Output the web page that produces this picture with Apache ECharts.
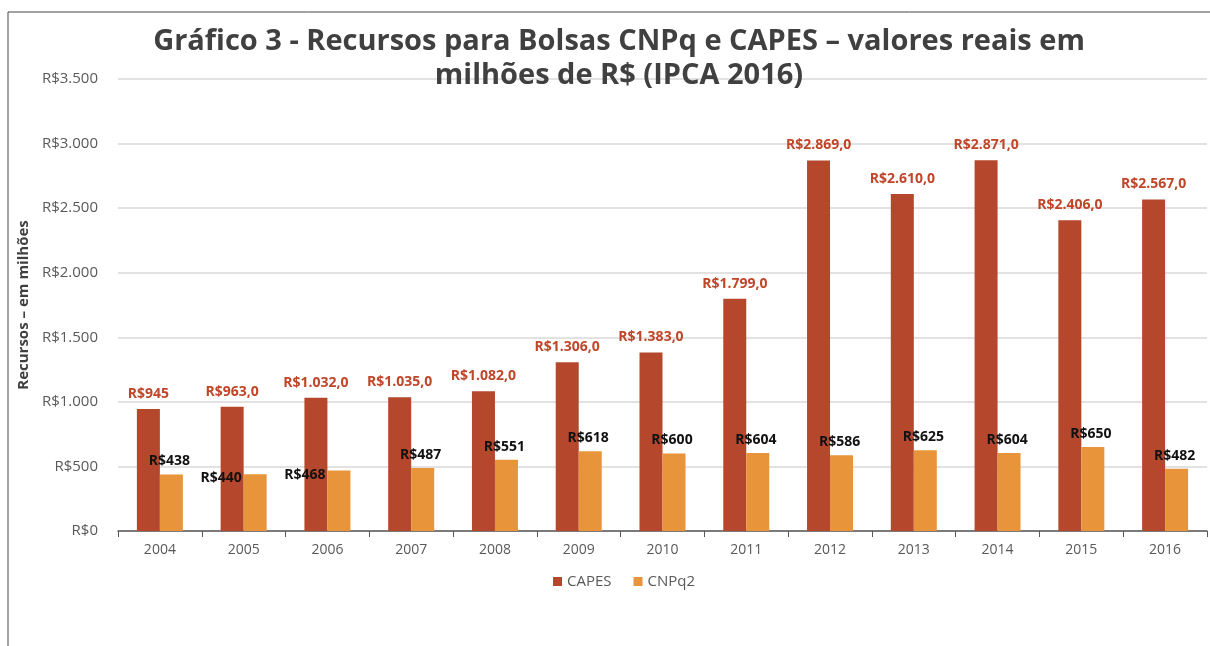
<!DOCTYPE html>
<html>
<head>
<meta charset="utf-8">
<script src="https://cdn.jsdelivr.net/npm/echarts@6/dist/echarts.min.js"></script>
<style>
  html, body { margin: 0; padding: 0; background: #fff; }
  #chart { width: 1210px; height: 646px; }
</style>
</head>
<body>
<div id="chart"></div>
<script>
const years = ["2004", "2005", "2006", "2007", "2008", "2009", "2010", "2011", "2012", "2013", "2014", "2015", "2016"];
const capes = [945, 963, 1032, 1035, 1082, 1306, 1383, 1799, 2869, 2610, 2871, 2406, 2567];
const cnpq = [438, 440, 468, 487, 551, 618, 600, 604, 586, 625, 604, 650, 482];
const capesLabels = ["R$945", "R$963,0", "R$1.032,0", "R$1.035,0", "R$1.082,0", "R$1.306,0", "R$1.383,0",
  "R$1.799,0", "R$2.869,0", "R$2.610,0", "R$2.871,0", "R$2.406,0", "R$2.567,0"];
const yTicks = [0, 500, 1000, 1500, 2000, 2500, 3000, 3500];

const FONT = "'Open Sans', 'DejaVu Sans', sans-serif";

// R$ with "." as thousands separator
const brl = (v) => "R$" + String(v).replace(/\B(?=(\d{3})+(?!\d))/g, ".");

// CNPq labels that sit left of the bar in the original
const leftLabels = [1, 2];

const chartDom = document.getElementById("chart");
const myChart = echarts.init(chartDom);

const option = {
  animation: false,
  title: {
    text: "Gráfico 3 - Recursos para Bolsas CNPq e CAPES – valores reais em\nmilhões de R$ (IPCA 2016)",
    left: 614,
    top: 20,
    textAlign: "center",
    textStyle: {
      fontFamily: FONT,
      fontWeight: "bold",
      fontSize: 29,
      lineHeight: 34,
      color: "#404040",
    },
  },
  legend: {
    left: 548,
    top: 569,
    itemWidth: 9,
    itemHeight: 9,
    itemGap: 22,
    icon: "rect",
    textStyle: { fontFamily: FONT, fontSize: 15, color: "#595959" },
    data: ["CAPES", "CNPq2"],
  },
  grid: { left: 118, right: 3, top: 79, bottom: 115 },
  xAxis: {
    type: "category",
    data: years,
    axisLine: { lineStyle: { color: "#595959", width: 1.5 } },
    axisTick: { show: true, length: 6, lineStyle: { color: "#595959" } },
    axisLabel: { fontFamily: FONT, fontSize: 14, color: "#595959", margin: 12 },
  },
  yAxis: {
    type: "value",
    min: 0,
    max: 3500,
    interval: 500,
    name: "Recursos – em milhões",
    nameLocation: "middle",
    nameGap: 84,
    nameTextStyle: { fontFamily: FONT, fontWeight: "bold", fontSize: 15, color: "#404040" },
    axisLabel: {
      fontFamily: FONT,
      fontSize: 15,
      color: "#595959",
      margin: 20,
      formatter: (v) => (yTicks.includes(v) ? brl(v) : ""),
    },
    splitLine: { lineStyle: { color: "#d9d9d9", width: 1.5 } },
    axisLine: { show: false },
    axisTick: { show: false },
  },
  series: [
    {
      name: "CAPES",
      type: "bar",
      data: capes,
      barWidth: 23,
      barGap: "0%",
      itemStyle: { color: "#b5472d" },
      label: {
        show: true,
        position: "top",
        distance: 8,
        fontFamily: FONT,
        fontWeight: "bold",
        fontSize: 14,
        color: "#c0462a",
        formatter: (p) => capesLabels[p.dataIndex],
      },
    },
    {
      name: "CNPq2",
      type: "bar",
      data: cnpq.map((v, i) =>
        leftLabels.includes(i)
          ? { value: v, label: { position: [0, 4], align: "right", verticalAlign: "middle" } }
          : v
      ),
      barWidth: 23,
      itemStyle: { color: "#e8943a" },
      label: {
        show: true,
        position: "top",
        distance: 6,
        offset: [-2, 0],
        fontFamily: FONT,
        fontWeight: "bold",
        fontSize: 14,
        color: "#111",
        formatter: (p) => brl(p.value),
      },
    },
  ],
  graphic: [
    { type: "line", shape: { x1: 8, y1: 12, x2: 1210, y2: 12 }, style: { stroke: "#444", lineWidth: 1 } },
    { type: "line", shape: { x1: 8, y1: 12, x2: 8, y2: 646 }, style: { stroke: "#444", lineWidth: 1 } },
  ],
};

option && myChart.setOption(option);
</script>
</body>
</html>
